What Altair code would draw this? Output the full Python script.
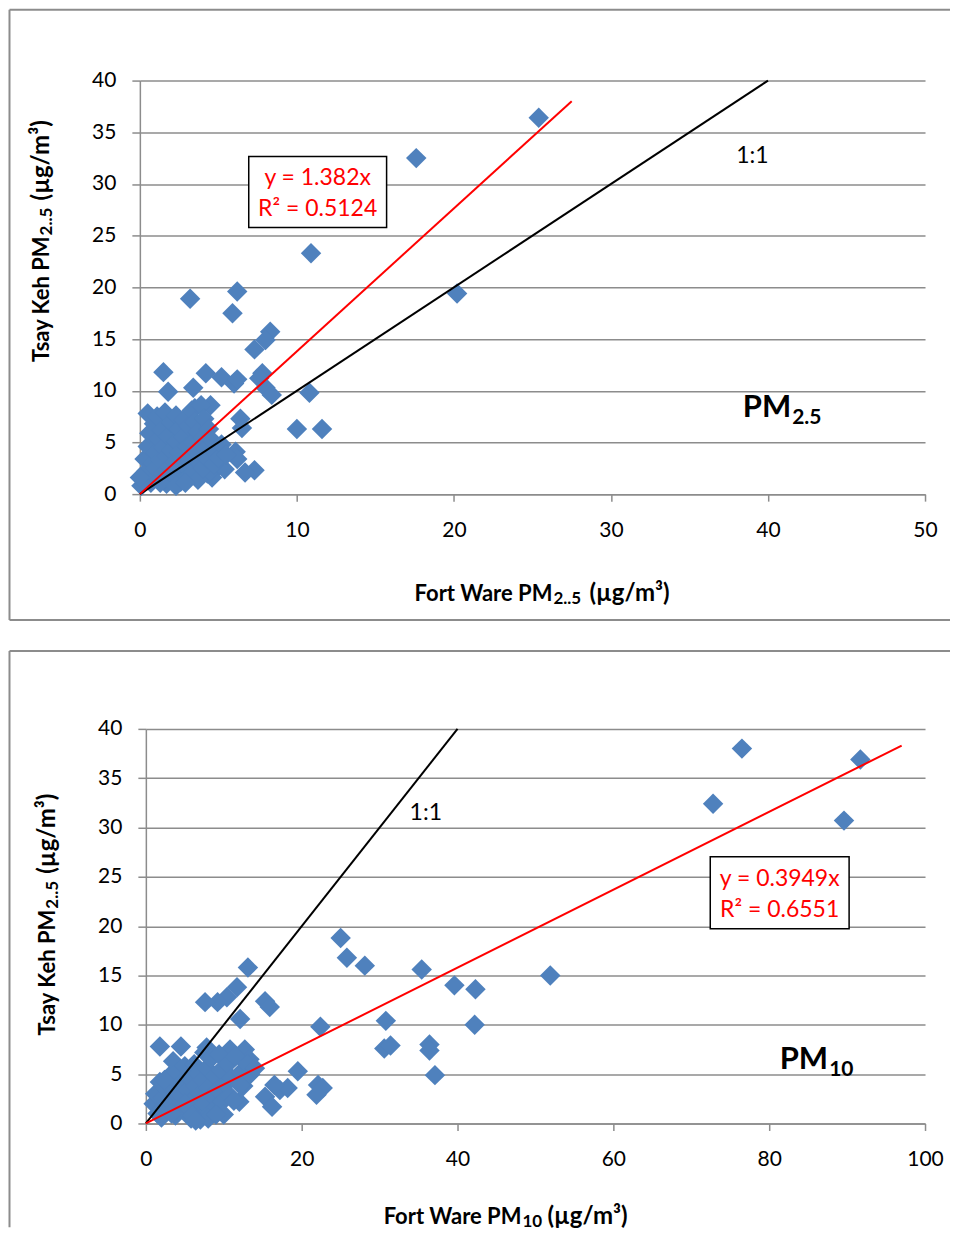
import altair as alt
import pandas as pd

# ---------------- data ----------------
# Top panel: Fort Ware PM2.5 (x) vs Tsay Keh PM2.5 (y)
pm25_x = [25.4, 17.6, 10.9, 20.2, 3.2, 6.2, 5.9, 8.3, 8.0, 7.3, 1.5, 4.2, 5.2, 6.0, 6.2, 7.8, 7.6, 8.0,
          3.4, 1.8, 8.4, 10.8, 10.0, 11.6, 6.4, 6.5, 6.1, 6.2, 7.3, 6.7, 4.5, 5.0, 5.4, 4.6, 4.3, 3.5,
          0.2, 0.3, 0.4, 0.5, 0.5, 0.6, 0.7, 0.8, 0.9, 1.0, 1.0, 1.1, 1.2, 1.2, 1.3, 1.4, 1.5, 1.5,
          1.6, 1.7, 1.7, 1.8, 1.9, 2.0, 2.0, 2.1, 2.2, 2.3, 2.3, 2.4, 2.5, 2.5, 2.6, 2.7, 2.8, 2.8,
          2.9, 3.0, 3.0, 3.1, 3.2, 3.3, 3.4, 3.4, 3.5, 3.6, 3.7, 3.7, 3.8, 3.9, 4.0, 4.0, 4.1, 4.2,
          4.3, 4.4, 4.6, 4.7, 4.8, 5.0, 5.2, 5.5, 0.1, 1.3, 2.3, 2.9, 0.0]
pm25_y = [36.4, 32.5, 23.3, 19.4, 18.9, 19.6, 17.5, 15.7, 14.9, 14.0, 11.8, 11.7, 11.3, 10.7, 11.1, 11.7, 11.2, 10.3,
          10.3, 9.9, 9.6, 9.8, 6.3, 6.3, 7.3, 6.4, 4.1, 3.4, 2.3, 2.1, 8.6, 2.7, 2.4, 1.6, 2.0, 8.3,
          1.6, 3.4, 2.2, 4.6, 7.8, 5.9, 1.1, 3.0, 6.8, 2.5, 4.0, 7.5, 1.4, 5.3, 3.3, 6.2, 2.0, 4.5,
          7.9, 1.0, 3.7, 5.6, 2.6, 6.9, 4.2, 1.5, 3.1, 7.6, 5.1, 2.2, 6.3, 4.0, 1.2, 3.5, 7.2, 5.5,
          2.7, 4.6, 1.6, 6.6, 3.2, 8.1, 5.0, 2.1, 7.0, 4.1, 6.0, 1.4, 3.0, 8.6, 5.4, 2.5, 7.3, 4.4,
          3.4, 6.3, 5.2, 2.9, 4.0, 3.5, 4.8, 3.8, 0.8, 1.1, 0.8, 1.1, 1.6]

# Bottom panel: Fort Ware PM10 (x) vs Tsay Keh PM2.5 (y)
pm10_x = [76.5, 91.7, 72.8, 89.6, 51.9, 25.0, 25.8, 28.1, 35.4, 39.6, 42.3, 42.2, 30.8, 30.6, 31.4, 36.4, 36.4,
          37.1, 22.4, 19.5, 22.1, 22.7, 21.9, 13.1, 11.7, 10.4, 9.2, 7.6, 15.3, 15.9, 12.1, 1.8, 4.5, 7.8, 10.8,
          12.7, 13.3, 1.0, 1.2, 1.5, 1.8, 2.0, 2.2, 2.5, 2.8, 3.0, 3.2, 3.5, 3.6, 3.8, 4.0, 4.2, 4.4, 4.6,
          5.0, 5.2, 5.4, 5.6, 5.8, 6.0, 6.2, 6.4, 6.6, 6.8, 7.0, 7.0, 7.3, 7.5, 7.6, 7.8, 8.0, 8.2, 8.4,
          8.6, 8.8, 9.0, 9.2, 9.4, 9.6, 9.8, 10.0, 10.2, 10.5, 10.8, 11.0, 11.5, 12.0, 12.2, 12.5, 13.0,
          13.4, 14.0, 2.4, 3.3, 5.0, 6.0, 8.0, 9.0, 15.3, 16.2, 17.2, 18.2, 16.5, 11.3, 12.1, 6.4]
pm10_y = [38.0, 36.9, 32.4, 30.7, 15.0, 18.8, 16.8, 16.0, 15.6, 14.0, 13.6, 10.0, 10.4, 7.6, 7.9, 8.0, 7.4,
          4.9, 9.8, 5.3, 3.9, 3.6, 2.9, 15.8, 13.8, 12.8, 12.3, 12.3, 12.4, 11.8, 10.6, 7.8, 7.8, 7.7, 7.5,
          7.5, 6.5, 2.0, 3.0, 1.0, 4.2, 0.6, 2.6, 3.6, 1.5, 4.8, 2.2, 6.3, 3.3, 0.8, 5.2, 1.8, 4.0, 2.8,
          5.8, 1.2, 3.4, 4.6, 0.5, 2.4, 6.0, 3.8, 1.6, 5.0, 0.4, 3.0, 4.4, 7.2, 2.0, 5.6, 3.6, 1.0, 6.6,
          2.8, 4.8, 1.6, 3.4, 7.0, 5.4, 2.2, 0.9, 4.0, 6.0, 2.8, 4.6, 6.8, 2.2, 5.2, 3.8, 6.0,
          5.0, 5.6, 4.4, 1.0, 2.0, 0.8, 0.5, 0.9, 2.7, 1.7, 3.4, 3.6, 3.9, 2.3, 3.9, 0.3]

# regression / reference lines
fit25_slope, fit25_xend = 1.382, 27.5
fit10_slope, fit10_xend = 0.3949, 97.0
one_to_one_25_xend = 40.0
one_to_one_10_xend = 40.0

top_x_ticks = [0, 10, 20, 30, 40, 50]
bot_x_ticks = [0, 20, 40, 60, 80, 100]
y_ticks = [0, 5, 10, 15, 20, 25, 30, 35, 40]

FONT = "Lato"
BLUE = "#4F81BD"
GRID = "#8C8C8C"

# both panels share the same plot-area origin x (146 px on the page) in the column layout
ORIGIN_X = 146


def one_item():
    return alt.Data(values=[{}])


def make_panel(xs, ys, xdom, xticks, slope, xend, oxend, plot_left, plot_right, top_y, bottom_y, txt):
    ox, oy = ORIGIN_X, top_y
    shift = ORIGIN_X - plot_left          # axis placed left of the shared origin
    w = plot_right - ORIGIN_X
    h = bottom_y - top_y

    def px(v):
        return v - ox

    def py(v):
        return v - oy

    pts = pd.DataFrame({"x": xs, "y": ys})
    xsc = alt.Scale(domain=xdom, nice=False, zero=True, range=[-shift, w])
    ysc = alt.Scale(domain=[0, 40], nice=False)
    xax = alt.Axis(values=xticks, grid=False, labelFontSize=21, labelFont=FONT, labelColor="black",
                   domainColor=GRID, domainWidth=1.5, tickColor=GRID, tickWidth=1.5, tickSize=7,
                   labelPadding=18, labelFlush=False, labelOverlap=False, title=None)
    yax_kw = dict(values=y_ticks, grid=True, gridColor=GRID, gridWidth=1.5, labelFontSize=21,
                  labelFont=FONT, labelColor="black", domainColor=GRID, domainWidth=1.5,
                  tickColor=GRID, tickWidth=1.5, tickSize=8, labelPadding=16, labelFlush=False,
                  labelOverlap=False, title=None)
    if shift:
        yax_kw["offset"] = shift
    yax = alt.Axis(**yax_kw)

    layers = []

    def rule(x1, y1, x2, y2):
        return alt.Chart(one_item()).mark_rule(color="#8C8C8C", strokeWidth=2).encode(
            x=alt.value(px(x1)), x2=alt.value(px(x2)), y=alt.value(py(y1)), y2=alt.value(py(y2)))

    for seg in txt["frame"]:
        layers.append(rule(*seg))

    base = alt.Chart(pts).mark_point(shape="diamond", filled=True, size=420, color=BLUE, opacity=1).encode(
        x=alt.X("x:Q", scale=xsc, axis=xax),
        y=alt.Y("y:Q", scale=ysc, axis=yax))

    fit = pd.DataFrame({"x": [0, xend], "y": [0, slope * xend]})
    fit_line = alt.Chart(fit).mark_line(color="#FF0000", strokeWidth=2).encode(
        x=alt.X("x:Q", scale=xsc), y=alt.Y("y:Q", scale=ysc))
    one = pd.DataFrame({"x": [0, oxend], "y": [0, oxend]})
    one_line = alt.Chart(one).mark_line(color="black", strokeWidth=2).encode(
        x=alt.X("x:Q", scale=xsc), y=alt.Y("y:Q", scale=ysc))

    layers += [base, one_line, fit_line]

    def text(s, x, y, size, bold=False, color="black", align="left", angle=0, baseline="middle"):
        kw = dict(fontSize=size, font=FONT, color=color, align=align, baseline=baseline)
        if bold:
            kw["fontWeight"] = "bold"
        if angle:
            kw["angle"] = angle
        return alt.Chart(one_item()).mark_text(**kw).encode(
            x=alt.value(px(x)), y=alt.value(py(y)), text=alt.value(s))

    # x-axis title with subscript
    xt = txt["xtitle"]
    layers.append(text(xt[0], xt[1], xt[2], 22, bold=True, align="right"))
    layers.append(text(xt[3], xt[1] + 1, xt[2] + 5, 17, bold=True))
    layers.append(text("(µg/m³)", xt[4], xt[2], 24, bold=True))
    # y-axis title rotated with subscript
    yt = txt["ytitle"]
    layers.append(text("Tsay Keh PM", yt[0], yt[1], 22, bold=True, align="right", angle=270))
    layers.append(text("2..5", yt[0] + 5, yt[1] - 1, 17, bold=True, angle=270))
    layers.append(text("(µg/m³)", yt[0], yt[2], 24, bold=True, angle=270))
    # PM label
    pm = txt["pm"]
    layers.append(text("PM", pm[1], pm[2], 31, bold=True, align="right"))
    layers.append(text(pm[0], pm[1] + 1, pm[2] + 10, 21, bold=True))
    # 1:1 label
    layers.append(text("1:1", txt["one"][0], txt["one"][1], 23))
    # equation box
    bx = txt["box"]
    layers.append(alt.Chart(one_item()).mark_rect(fill="white", stroke="black", strokeWidth=1.5).encode(
        x=alt.value(px(bx[0])), x2=alt.value(px(bx[2])), y=alt.value(py(bx[1])), y2=alt.value(py(bx[3]))))
    cx = (bx[0] + bx[2]) / 2
    layers.append(text(txt["eq"][0], cx, bx[1] + 22, 23, color="#FF0000", align="center"))
    layers.append(text(txt["eq"][1], cx, bx[1] + 53, 23, color="#FF0000", align="center"))

    return alt.layer(*layers).properties(width=w, height=h)


top = make_panel(
    pm25_x, pm25_y, [0, 50], top_x_ticks, fit25_slope, fit25_xend, one_to_one_25_xend,
    plot_left=140, plot_right=926, top_y=80, bottom_y=494,
    txt={
        "frame": [(9.5, 9, 951, 9), (9.5, 9, 9.5, 620), (9.5, 620, 951, 620)],
        "xtitle": ("Fort Ware PM", 553, 594, "2..5", 590),
        "ytitle": (42, 236, 200),
        "pm": ("2.5", 792, 408),
        "one": (737, 156),
        "box": (249, 156, 387, 227),
        "eq": ("y = 1.382x", "R² = 0.5124"),
    })

bottom = make_panel(
    pm10_x, pm10_y, [0, 100], bot_x_ticks, fit10_slope, fit10_xend, one_to_one_10_xend,
    plot_left=146, plot_right=926, top_y=729, bottom_y=1124,
    txt={
        "frame": [(9.5, 651, 951, 651), (9.5, 651, 9.5, 1228)],
        "xtitle": ("Fort Ware PM", 522, 1218, "10", 548),
        "ytitle": (48, 910, 874),
        "pm": ("10", 829, 1060),
        "one": (410, 813),
        "box": (711, 857, 850, 929),
        "eq": ("y = 0.3949x", "R² = 0.6551"),
    })

chart = alt.vconcat(top, bottom, spacing=29).properties(padding=0).configure_view(
    strokeOpacity=0)

chart.save("out.html", embed_options={"renderer": "svg", "actions": False})
